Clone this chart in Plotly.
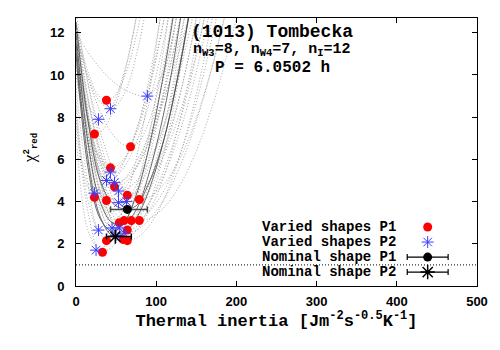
import plotly.graph_objects as go

# === Data ===
# thermal inertia grid on which the chi2 curves were read
TI_GRID = [0, 15, 30, 45, 60, 75, 90, 110, 130, 150, 175, 200]

# chi2_red curves of the varied shapes, period P1 (dotted grey)
CURVES_P1 = [
    [12.5, 10.15, 8.96, 8.91, 9.87, 11.83, 14.78, 20.3, 27.5, 35, 45, 55],
    [10.5, 7.6, 7.3, 8.18, 9.98, 12.7, 16.3, 22.6, 30, 38, 48, 58],
    [12, 9.88, 8.28, 7.22, 6.68, 6.7, 7.7, 10.6, 15.3, 21.8, 30, 40],
    [11, 7.89, 6.09, 5.6, 6.05, 7.2, 9.1, 12.7, 17.6, 23.7, 32, 42],
    [10, 7.21, 5.45, 4.72, 4.87, 5.57, 6.8, 9.27, 12.7, 17.1, 23.9, 31],
    [8, 4.66, 4.23, 4.5, 5.05, 5.88, 7.0, 8.9, 11.3, 14.2, 18.6, 23.7],
    [11, 6.59, 4.36, 4.11, 4.6, 5.62, 7.14, 9.98, 13.7, 18.4, 25.5, 33],
    [12, 8.81, 6.47, 4.98, 4.33, 4.41, 4.92, 6.23, 8.27, 11.04, 15.5, 21.1],
    [12.5, 9.61, 7.33, 5.65, 4.59, 4.12, 4.19, 4.84, 6.09, 7.96, 11.15, 15.3],
    [11, 7.18, 4.58, 3.22, 3.04, 3.46, 4.37, 6.3, 9.08, 12.7, 18.4, 25.4],
    [12, 8.11, 5.33, 3.66, 3.1, 3.3, 3.88, 5.28, 7.37, 10.15, 14.6, 20.2],
    [12.5, 8.85, 6.1, 4.24, 3.26, 3.13, 3.48, 4.54, 6.28, 8.7, 12.7, 17.8],
    [13, 9.59, 6.91, 4.93, 3.67, 3.13, 3.18, 3.73, 4.81, 6.4, 9.14, 12.7],
    [11.5, 7.84, 5.15, 3.43, 2.69, 2.8, 3.47, 5.21, 7.94, 11.63, 17.6, 25.1],
    [11, 7.09, 4.33, 2.69, 2.2, 2.61, 3.73, 6.36, 10.27, 15.4, 23.7, 34],
    [12, 7.92, 4.93, 3.02, 2.19, 2.27, 2.78, 4.14, 6.24, 9.09, 13.7, 19.5],
    [9.5, 4.84, 2.47, 2.23, 2.91, 4.3, 6.39, 10.28, 15.4, 21.8, 30, 40],
    [8, 3.51, 1.66, 1.84, 2.8, 4.51, 6.96, 11.4, 17.1, 24.2, 33, 44],
]

# chi2_red curves of the varied shapes, period P2 (dotted grey)
CURVES_P2 = [
    [12, 11.07, 10.32, 9.73, 9.32, 9.07, 9.0, 10.26, 13.8, 19.6, 27, 36],
    [12, 9.93, 8.73, 8.4, 9.1, 10.9, 13.8, 19.3, 26, 33, 42, 52],
    [11, 8.57, 7.91, 8.53, 10.13, 12.7, 16.2, 22.5, 29, 36, 46, 56],
    [11.5, 7.99, 5.96, 5.4, 5.95, 7.34, 9.6, 13.9, 19.8, 26.5, 36, 46],
    [10, 6.83, 5.22, 5.06, 5.63, 6.78, 8.51, 11.73, 16, 21.3, 29, 37],
    [12, 8.26, 5.9, 4.94, 5.05, 5.65, 6.72, 8.86, 11.83, 15.6, 21.5, 28],
    [11, 7.84, 5.72, 4.65, 4.55, 4.97, 5.83, 7.65, 10.24, 13.6, 18.9, 25.4],
    [8.5, 4.9, 4.45, 4.93, 5.9, 7.36, 9.32, 12.7, 17, 22.1, 30, 38],
    [11.5, 7.83, 5.37, 4.12, 4.0, 4.51, 5.53, 7.7, 10.8, 14.8, 21.2, 28],
    [12.5, 8.93, 6.33, 4.7, 4.02, 4.17, 4.84, 6.54, 9.16, 12.7, 18.4, 25.6],
    [10.5, 6.19, 3.61, 2.75, 3.1, 4.15, 5.9, 9.32, 13.98, 19.9, 28, 37],
    [9, 4.02, 2.65, 2.93, 3.64, 4.78, 6.36, 9.14, 12.7, 17, 23.5, 30],
    [11.5, 7.32, 4.48, 2.99, 2.78, 3.14, 3.9, 5.53, 7.86, 10.9, 15.7, 21.6],
    [12.5, 8.13, 5.0, 3.13, 2.5, 2.65, 3.09, 4.13, 5.7, 7.79, 11.13, 15.3],
    [7.5, 2.63, 1.74, 2.39, 3.8, 6.0, 8.96, 14.1, 20.6, 28, 38, 48],
    [11, 6.61, 3.78, 2.49, 2.54, 3.3, 4.68, 7.53, 11.5, 16.6, 24.7, 32],
]

# chi2_red curves of the nominal shapes (solid dark)
CURVES_NOMINAL = [
    [11.5, 6.0, 3.3, 2.4, 2.5, 3.19, 4.44, 6.99, 10.55, 15.1, 22.2, 30],
    [12.5, 7.8, 5.0, 3.95, 3.65, 3.8, 4.8, 7.0, 10.5, 15, 22, 30],
    [12, 6.8, 4.0, 3.0, 2.95, 3.6, 5.2, 8.3, 12.6, 18, 26, 35],
    [11, 5.6, 3.2, 2.6, 3.0, 4.3, 6.4, 10.2, 15, 21, 30, 40],
]

# best-fit minima of the varied shapes
P1_TI = [38, 23, 68, 43, 48, 23, 38, 64, 79, 54, 60, 69, 79, 64, 59, 64, 38, 33]
P1_CHI = [8.8, 7.2, 6.6, 5.6, 4.7, 4.2, 4.05, 4.3, 4.1, 3.0, 3.1, 3.1, 3.1, 2.65, 2.2, 2.15, 2.15, 1.6]
P2_TI = [89, 43, 28, 43, 38, 48, 53, 23, 53, 63, 45, 28, 54, 60, 25, 50]
P2_CHI = [9.0, 8.4, 7.9, 5.4, 5.0, 4.9, 4.5, 4.4, 3.95, 4.0, 2.75, 2.65, 2.75, 2.5, 1.7, 2.4]

# nominal shapes: best fit with thermal inertia uncertainty
NOM_P1 = dict(ti=[64], chi=[3.63], err_minus=[21], err_plus=[25])
NOM_P2 = dict(ti=[49], chi=[2.34], err_minus=[11], err_plus=[20])

LEGEND_LABELS = ["Varied shapes P1", "Varied shapes P2", "Nominal shape P1", "Nominal shape P2"]

MONO = "Liberation Mono"
SANS = "Liberation Sans"
RED = "#ff0000"
BLUE = "#3c3cff"

fig = go.Figure()

# === Curves ===
for chi in CURVES_P1 + CURVES_P2:
    fig.add_trace(go.Scatter(
        x=TI_GRID, y=chi, mode="lines", line_shape="spline",
        line=dict(color="rgb(165,165,165)", width=1, dash="1px,2px"),
        hoverinfo="skip", showlegend=False,
    ))
for chi in CURVES_NOMINAL:
    fig.add_trace(go.Scatter(
        x=TI_GRID, y=chi, mode="lines", line_shape="spline",
        line=dict(color="rgb(70,70,70)", width=0.8),
        hoverinfo="skip", showlegend=False,
    ))

fig.add_hline(y=1, line_dash="1px,2px", line_color="black", line_width=1)

# === Minima ===
fig.add_trace(go.Scatter(
    x=P1_TI, y=P1_CHI, mode="markers",
    marker=dict(symbol="circle", size=9, color=RED),
    showlegend=False,
))
fig.add_trace(go.Scatter(
    x=P2_TI, y=P2_CHI, mode="markers",
    marker=dict(symbol="asterisk-open", size=10, color=BLUE, line=dict(color=BLUE, width=1)),
    showlegend=False,
))
fig.add_trace(go.Scatter(
    x=NOM_P1["ti"], y=NOM_P1["chi"], mode="markers",
    marker=dict(symbol="circle", size=9, color="black"),
    error_x=dict(type="data", symmetric=False, array=NOM_P1["err_plus"],
                 arrayminus=NOM_P1["err_minus"], color="rgb(70,70,70)", thickness=1.5, width=3),
    showlegend=False,
))
fig.add_trace(go.Scatter(
    x=NOM_P2["ti"], y=NOM_P2["chi"], mode="markers",
    marker=dict(symbol="asterisk-open", size=12, color="black", line=dict(color="black", width=1.5)),
    error_x=dict(type="data", symmetric=False, array=NOM_P2["err_plus"],
                 arrayminus=NOM_P2["err_minus"], color="black", thickness=1.5, width=3),
    showlegend=False,
))

# === Legend (gnuplot style: text, then sample) ===
LEG_ROWS = [0.220, 0.164, 0.108, 0.052]
LEG_X = 0.877
fig.add_trace(go.Scatter(x=[LEG_X], y=[LEG_ROWS[0]], xaxis="x2", yaxis="y2", mode="markers",
                         marker=dict(symbol="circle", size=9, color=RED), showlegend=False))
fig.add_trace(go.Scatter(x=[LEG_X], y=[LEG_ROWS[1]], xaxis="x2", yaxis="y2", mode="markers",
                         marker=dict(symbol="asterisk-open", size=10, color=BLUE,
                                     line=dict(color=BLUE, width=1)),
                         showlegend=False))
fig.add_trace(go.Scatter(x=[LEG_X], y=[LEG_ROWS[2]], xaxis="x2", yaxis="y2", mode="markers",
                         marker=dict(symbol="circle", size=9, color="black"),
                         error_x=dict(type="constant", value=0.051, color="black", thickness=1.2, width=3),
                         showlegend=False))
fig.add_trace(go.Scatter(x=[LEG_X], y=[LEG_ROWS[3]], xaxis="x2", yaxis="y2", mode="markers",
                         marker=dict(symbol="asterisk-open", size=12, color="black",
                                     line=dict(color="black", width=1.5)),
                         error_x=dict(type="constant", value=0.051, color="black", thickness=1.2, width=3),
                         showlegend=False))
for label, yy in zip(LEGEND_LABELS, LEG_ROWS):
    fig.add_annotation(x=0.802, y=yy, xref="paper", yref="paper", text=label, showarrow=False,
                       xanchor="right", yanchor="middle",
                       font=dict(family=MONO, size=14, color="black", weight="bold"))

# === Title block inside the plot ===
title_lines = [
    ("(1013) Tombecka", 0.948, 18),
    ("n<sub>W3</sub>=8, n<sub>W4</sub>=7, n<sub>I</sub>=12", 0.879, 15),
    ("P = 6.0502 h", 0.812, 16),
]
for txt, yy, sz in title_lines:
    fig.add_annotation(x=0.49, y=yy, xref="paper", yref="paper", text=txt, showarrow=False,
                       xanchor="center", yanchor="middle",
                       font=dict(family=MONO, size=sz, color="black", weight="bold"))

# y axis title, placed by hand like gnuplot's ylabel
fig.add_annotation(
    x=-0.115, y=0.514, xref="paper", yref="paper", textangle=-90, showarrow=False,
    xanchor="center", yanchor="middle",
    text='<span style="font-family:Liberation Serif;font-weight:normal;font-size:17px">χ</span>'
         '<sup>2</sup><sub>red</sub>',
    font=dict(family=MONO, size=13, color="black", weight="bold"),
)

axis_common = dict(
    showgrid=False, zeroline=False, showline=True, linecolor="black", linewidth=1,
    mirror="ticks", ticks="inside", ticklen=5, tickcolor="black", automargin=False,
    tickfont=dict(family=SANS, size=13, color="black", weight="bold"),
)

SUP = '<sup><span style="font-size:12px">{}</span></sup>'

# the page body adds an 8px offset, so the figure is sized to fit the 500x350 window
fig.update_layout(
    width=492, height=334,
    margin=dict(l=68, r=23, t=10, b=56),
    plot_bgcolor="white", paper_bgcolor="white",
    showlegend=False,
    xaxis=dict(
        range=[0, 500], tickvals=[0, 100, 200, 300, 400, 500], ticklabelstandoff=3,
        title=dict(text="Thermal inertia [Jm" + SUP.format("-2") + "s" + SUP.format("-0.5")
                        + "K" + SUP.format("-1") + "]",
                   font=dict(family=MONO, size=17, color="black", weight="bold"), standoff=6),
        **axis_common,
    ),
    yaxis=dict(
        range=[0, 12.7], tickvals=[0, 2, 4, 6, 8, 10, 12], ticklabelstandoff=8,
        **axis_common,
    ),
    xaxis2=dict(range=[0, 1], overlaying="x", visible=False),
    yaxis2=dict(range=[0, 1], overlaying="y", visible=False),
)

fig.write_html("out.html")
